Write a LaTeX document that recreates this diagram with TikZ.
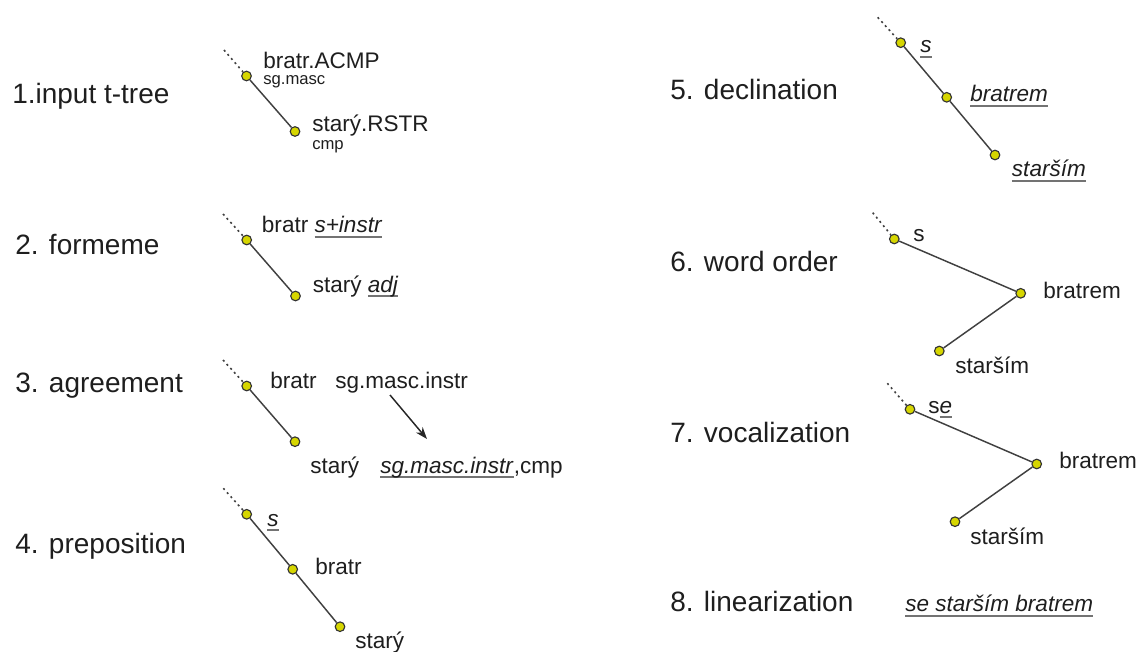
\documentclass[tikz,border=0pt]{standalone}
\usepackage{fontspec}
\setmainfont{Liberation Sans}
\usetikzlibrary{arrows.meta}
\definecolor{nodefill}{RGB}{214,214,0}
\definecolor{ink}{RGB}{30,30,30}
\newcommand{\myul}[1]{\setbox0\hbox{#1}\rlap{\raisebox{-4pt}{\color{black!55}\rule{\wd0}{1.5pt}}}\box0}
\tikzset{
  tn/.style={circle, draw=black!80, fill=nodefill, line width=0.85pt, minimum size=7.2pt, inner sep=0pt},
  lab/.style={anchor=base west, inner sep=0pt, font=\fontsize{16.9}{20}\selectfont, text=ink},
  smalllab/.style={anchor=base west, inner sep=0pt, font=\fontsize{12.5}{15}\selectfont, text=ink},
  ttl/.style={anchor=base west, inner sep=0pt, font=\fontsize{21}{25}\selectfont, text=ink},
  edge/.style={line width=1.1pt, draw=black!75},
  dots/.style={line width=1.2pt, draw=black!75, dash pattern=on 1.5pt off 2.6pt},
  arr/.style={line width=1.1pt, draw=black!85, -{Stealth[length=9pt,width=6.5pt]}}
}
\begin{document}
\begin{tikzpicture}[x=0.75pt,y=-0.75pt]
\useasboundingbox (0,0) rectangle (1138,652);
% ---------- Panel 1
\coordinate (d1) at (224,50);
\node[tn] (p1a) at (246.5,76) {};
\node[tn] (p1b) at (295,131.5) {};
\draw[dots] (d1) -- (p1a);
\draw[edge] (p1a) -- (p1b);
\node[lab] (l1a) at (263,68.5) {bratr.ACMP};
\node[smalllab] (l1as) at (263,85) {sg.masc};
\node[lab] (l1b) at (312,132) {starý.RSTR};
\node[smalllab] (l1bs) at (312,150) {cmp};
\node[ttl] (t1) at (12,104) {1.input t-tree};
% ---------- Panel 2
\coordinate (d2) at (223,214);
\node[tn] (p2a) at (246.7,240) {};
\node[tn] (p2b) at (295.5,296) {};
\draw[dots] (d2) -- (p2a);
\draw[edge] (p2a) -- (p2b);
\node[lab] (l2a) at (261.7,233) {bratr \myul{\textit{s+instr}}};
\node[lab] (l2b) at (312.5,292) {starý \myul{\textit{adj}}};
\node[ttl] (t2) at (15,255) {2. formeme};
% ---------- Panel 3
\coordinate (d3) at (223,360);
\node[tn] (p3a) at (246.7,386) {};
\node[tn] (p3b) at (295,441.7) {};
\draw[dots] (d3) -- (p3a);
\draw[edge] (p3a) -- (p3b);
\node[lab] (l3a) at (270,388) {bratr};
\node[lab] (l3f) at (335,388) {sg.masc.instr};
\node[lab] (l3b) at (310,473) {starý};
\node[lab] (l3g) at (380,473) {\myul{\textit{sg.masc.instr}},cmp};
\coordinate (a3s) at (390,395);
\coordinate (a3e) at (427,439);
\draw[arr] (a3s) -- (a3e);
\node[ttl] (t3) at (15,392) {3. agreement};
% ---------- Panel 4
\coordinate (d4) at (223.3,488.3);
\node[tn] (p4a) at (246.7,514.3) {};
\node[tn] (p4b) at (292.7,569.3) {};
\node[tn] (p4c) at (340,626.7) {};
\draw[dots] (d4) -- (p4a);
\draw[edge] (p4a) -- (p4b);
\draw[edge] (p4b) -- (p4c);
\node[lab] (l4a) at (267,526) {\myul{\textit{s}}};
\node[lab] (l4b) at (315,574) {bratr};
\node[lab] (l4c) at (355,648) {starý};
\node[ttl] (t4) at (15,553) {4. preposition};
% ---------- Panel 5
\coordinate (d5) at (877.7,17.3);
\node[tn] (p5a) at (900.7,42.7) {};
\node[tn] (p5b) at (946.7,97.3) {};
\node[tn] (p5c) at (995,155) {};
\draw[dots] (d5) -- (p5a);
\draw[edge] (p5a) -- (p5b);
\draw[edge] (p5b) -- (p5c);
\node[lab] (l5a) at (920,53) {\myul{\textit{s}}};
\node[lab] (l5b) at (970,101.7) {\myul{\textit{bratrem}}};
\node[lab] (l5c) at (1011.7,176.7) {\myul{\textit{starším}}};
\node[ttl] (t5) at (670,100) {5. declination};
% ---------- Panel 6
\coordinate (d6) at (872.7,212.7);
\node[tn] (p6a) at (894.3,239) {};
\node[tn] (p6b) at (1020.7,293.3) {};
\node[tn] (p6c) at (939.3,351) {};
\draw[dots] (d6) -- (p6a);
\draw[edge] (p6a) -- (p6b);
\draw[edge] (p6b) -- (p6c);
\node[lab] (l6a) at (913,242) {s};
\node[lab] (l6b) at (1043,298) {bratrem};
\node[lab] (l6c) at (955,373) {starším};
\node[ttl] (t6) at (670,272) {6. word order};
% ---------- Panel 7
\coordinate (d7) at (887.3,383.3);
\node[tn] (p7a) at (910,409.3) {};
\node[tn] (p7b) at (1036.7,464) {};
\node[tn] (p7c) at (955,521.7) {};
\draw[dots] (d7) -- (p7a);
\draw[edge] (p7a) -- (p7b);
\draw[edge] (p7b) -- (p7c);
\node[lab] (l7a) at (928,413) {s\myul{\textit{e}}};
\node[lab] (l7b) at (1059,468) {bratrem};
\node[lab] (l7c) at (970,544) {starším};
\node[ttl] (t7) at (670,442) {7. vocalization};
% ---------- Panel 8
\node[ttl] (t8) at (670,611) {8. linearization};
\node[lab] (l8) at (905,611.7) {\myul{\textit{se starším bratrem}}};
\end{tikzpicture}
\end{document}
